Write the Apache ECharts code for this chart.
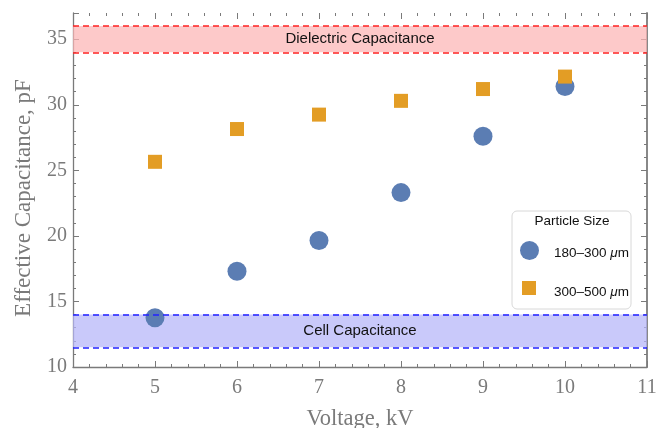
<!DOCTYPE html>
<html><head><meta charset="utf-8">
<script src="https://cdn.jsdelivr.net/npm/echarts@6/dist/echarts.min.js"></script>
<style>html,body{margin:0;padding:0;background:#fff}#c{width:656px;height:428px}</style>
</head><body><div id="c"></div>
<script>
const voltages = [5, 6, 7, 8, 9, 10];
const small = [13.75, 17.3, 19.65, 23.3, 27.6, 31.4];   // 180–300 μm
const large = [25.65, 28.15, 29.25, 30.3, 31.2, 32.15]; // 300–500 μm
const dielectricBand = [34, 36];
const cellBand = [11.5, 14];
const seriesNames = ['180–300 μm', '300–500 μm'];

const chart = echarts.init(document.getElementById('c'));
const serif = 'Liberation Serif';
const sans = 'Liberation Sans';
const axisGray = '#7a7a7a';

function pairs(ys){ return voltages.map((v,i)=>[v, ys[i]]); }

chart.setOption({
  animation: false,
  grid: {left: 73, right: 9, top: 13, bottom: 61, containLabel: false, outerBoundsMode: 'none'},
  xAxis: [{
    type: 'value', min: 4, max: 11, interval: 1,
    name: 'Voltage, kV', nameLocation: 'middle', nameGap: 41,
    nameTextStyle: {fontFamily: serif, fontSize: 22.5, color: axisGray},
    axisLine: {lineStyle: {color: axisGray, width: 1.3}},
    axisTick: {inside: true, length: 6, lineStyle: {color: axisGray}},
    minorTick: {show: true, splitNumber: 5, length: 3, lineStyle: {color: axisGray}},
    axisLabel: {fontFamily: serif, fontSize: 20, color: axisGray, margin: 11},
    splitLine: {show: false}
  },{
    type: 'value', min: 4, max: 11, interval: 1, position: 'top',
    axisLine: {show: false},
    axisTick: {inside: true, length: 6, lineStyle: {color: axisGray}},
    minorTick: {show: true, splitNumber: 5, length: 3, lineStyle: {color: axisGray}},
    axisLabel: {show: false}, splitLine: {show: false}
  }],
  yAxis: [{
    type: 'value', min: 10, max: 37, interval: 5,
    name: 'Effective Capacitance, pF', nameLocation: 'middle', nameGap: 38,
    nameTextStyle: {fontFamily: serif, fontSize: 23, color: axisGray, padding: [0, 16, 0, 0]},
    axisLine: {show: true, lineStyle: {color: axisGray, width: 1.3}},
    axisTick: {inside: true, length: 6, lineStyle: {color: axisGray}},
    minorTick: {show: true, splitNumber: 5, length: 3, lineStyle: {color: axisGray}},
    axisLabel: {fontFamily: serif, fontSize: 20, color: axisGray, margin: 6, showMaxLabel: false},
    splitLine: {show: false}
  },{
    type: 'value', min: 10, max: 37, interval: 5, position: 'right',
    axisLine: {show: true, lineStyle: {color: '#888', width: 2}},
    axisTick: {inside: true, length: 6, lineStyle: {color: axisGray}},
    minorTick: {show: true, splitNumber: 5, length: 3, lineStyle: {color: axisGray}},
    axisLabel: {show: false}, splitLine: {show: false}
  }],
  legend: [{
    z: 20, left: 520, top: 241, padding: 0, itemWidth: 19, itemHeight: 19,
    data: [{name: seriesNames[0], icon: 'circle'}],
    textStyle: {fontFamily: sans, fontSize: 13.5, color: '#111', padding: [6,0,0,10],
      rich: {i: {fontStyle: 'italic', fontFamily: sans, fontSize: 13.5, color: '#111'}}},
    formatter: n => n.replace(' μm', ' {i|μ}m')
  },{
    z: 20, left: 522, top: 281, padding: 0, itemWidth: 14, itemHeight: 14,
    data: [{name: seriesNames[1], icon: 'rect'}],
    textStyle: {fontFamily: sans, fontSize: 13.5, color: '#111', padding: [8,0,0,13],
      rich: {i: {fontStyle: 'italic', fontFamily: sans, fontSize: 13.5, color: '#111'}}},
    formatter: n => n.replace(' μm', ' {i|μ}m')
  }],
  graphic: [{
    type: 'rect', z: 1, shape: {x: 512, y: 211, width: 119, height: 98, r: 5},
    style: {fill: '#fff', stroke: '#d8d8d8', lineWidth: 1}
  },{
    type: 'text', z: 2, x: 572, y: 221,
    style: {text: 'Particle Size', fontFamily: sans, fontSize: 13.5, fill: '#111', align: 'center', verticalAlign: 'middle'}
  }],
  series: [{
    name: 'bands', type: 'line', data: [], z: 1,
    markArea: {
      silent: true,
      data: [
        [{yAxis: dielectricBand[0], itemStyle: {color: 'rgba(252,180,180,0.72)'},
          label: {show: true, position: 'inside', formatter: 'Dielectric Capacitance', fontFamily: sans, fontSize: 15, color: '#111'}},
         {yAxis: dielectricBand[1]}],
        [{yAxis: cellBand[0], itemStyle: {color: 'rgba(180,180,248,0.72)'},
          label: {show: true, position: 'inside', formatter: 'Cell Capacitance', fontFamily: sans, fontSize: 15, color: '#111'}},
         {yAxis: cellBand[1]}]
      ]
    },
    markLine: {
      silent: true, symbol: 'none', label: {show: false},
      data: [
        {yAxis: dielectricBand[0], lineStyle: {color: '#f22', type: [6,4], width: 1.5}},
        {yAxis: dielectricBand[1], lineStyle: {color: '#f22', type: [6,4], width: 1.5}},
        {yAxis: cellBand[0], lineStyle: {color: '#22f', type: [6,4], width: 1.5}},
        {yAxis: cellBand[1], lineStyle: {color: '#22f', type: [6,4], width: 1.5}}
      ]
    }
  },{
    name: seriesNames[0], type: 'scatter', symbol: 'circle', symbolSize: 19, z: 3,
    itemStyle: {color: '#5b7db3', opacity: 1}, data: pairs(small)
  },{
    name: seriesNames[1], type: 'scatter', symbol: 'rect', symbolSize: 14, z: 4,
    itemStyle: {color: '#e39d25', opacity: 1}, data: pairs(large)
  }]
});
</script></body></html>
